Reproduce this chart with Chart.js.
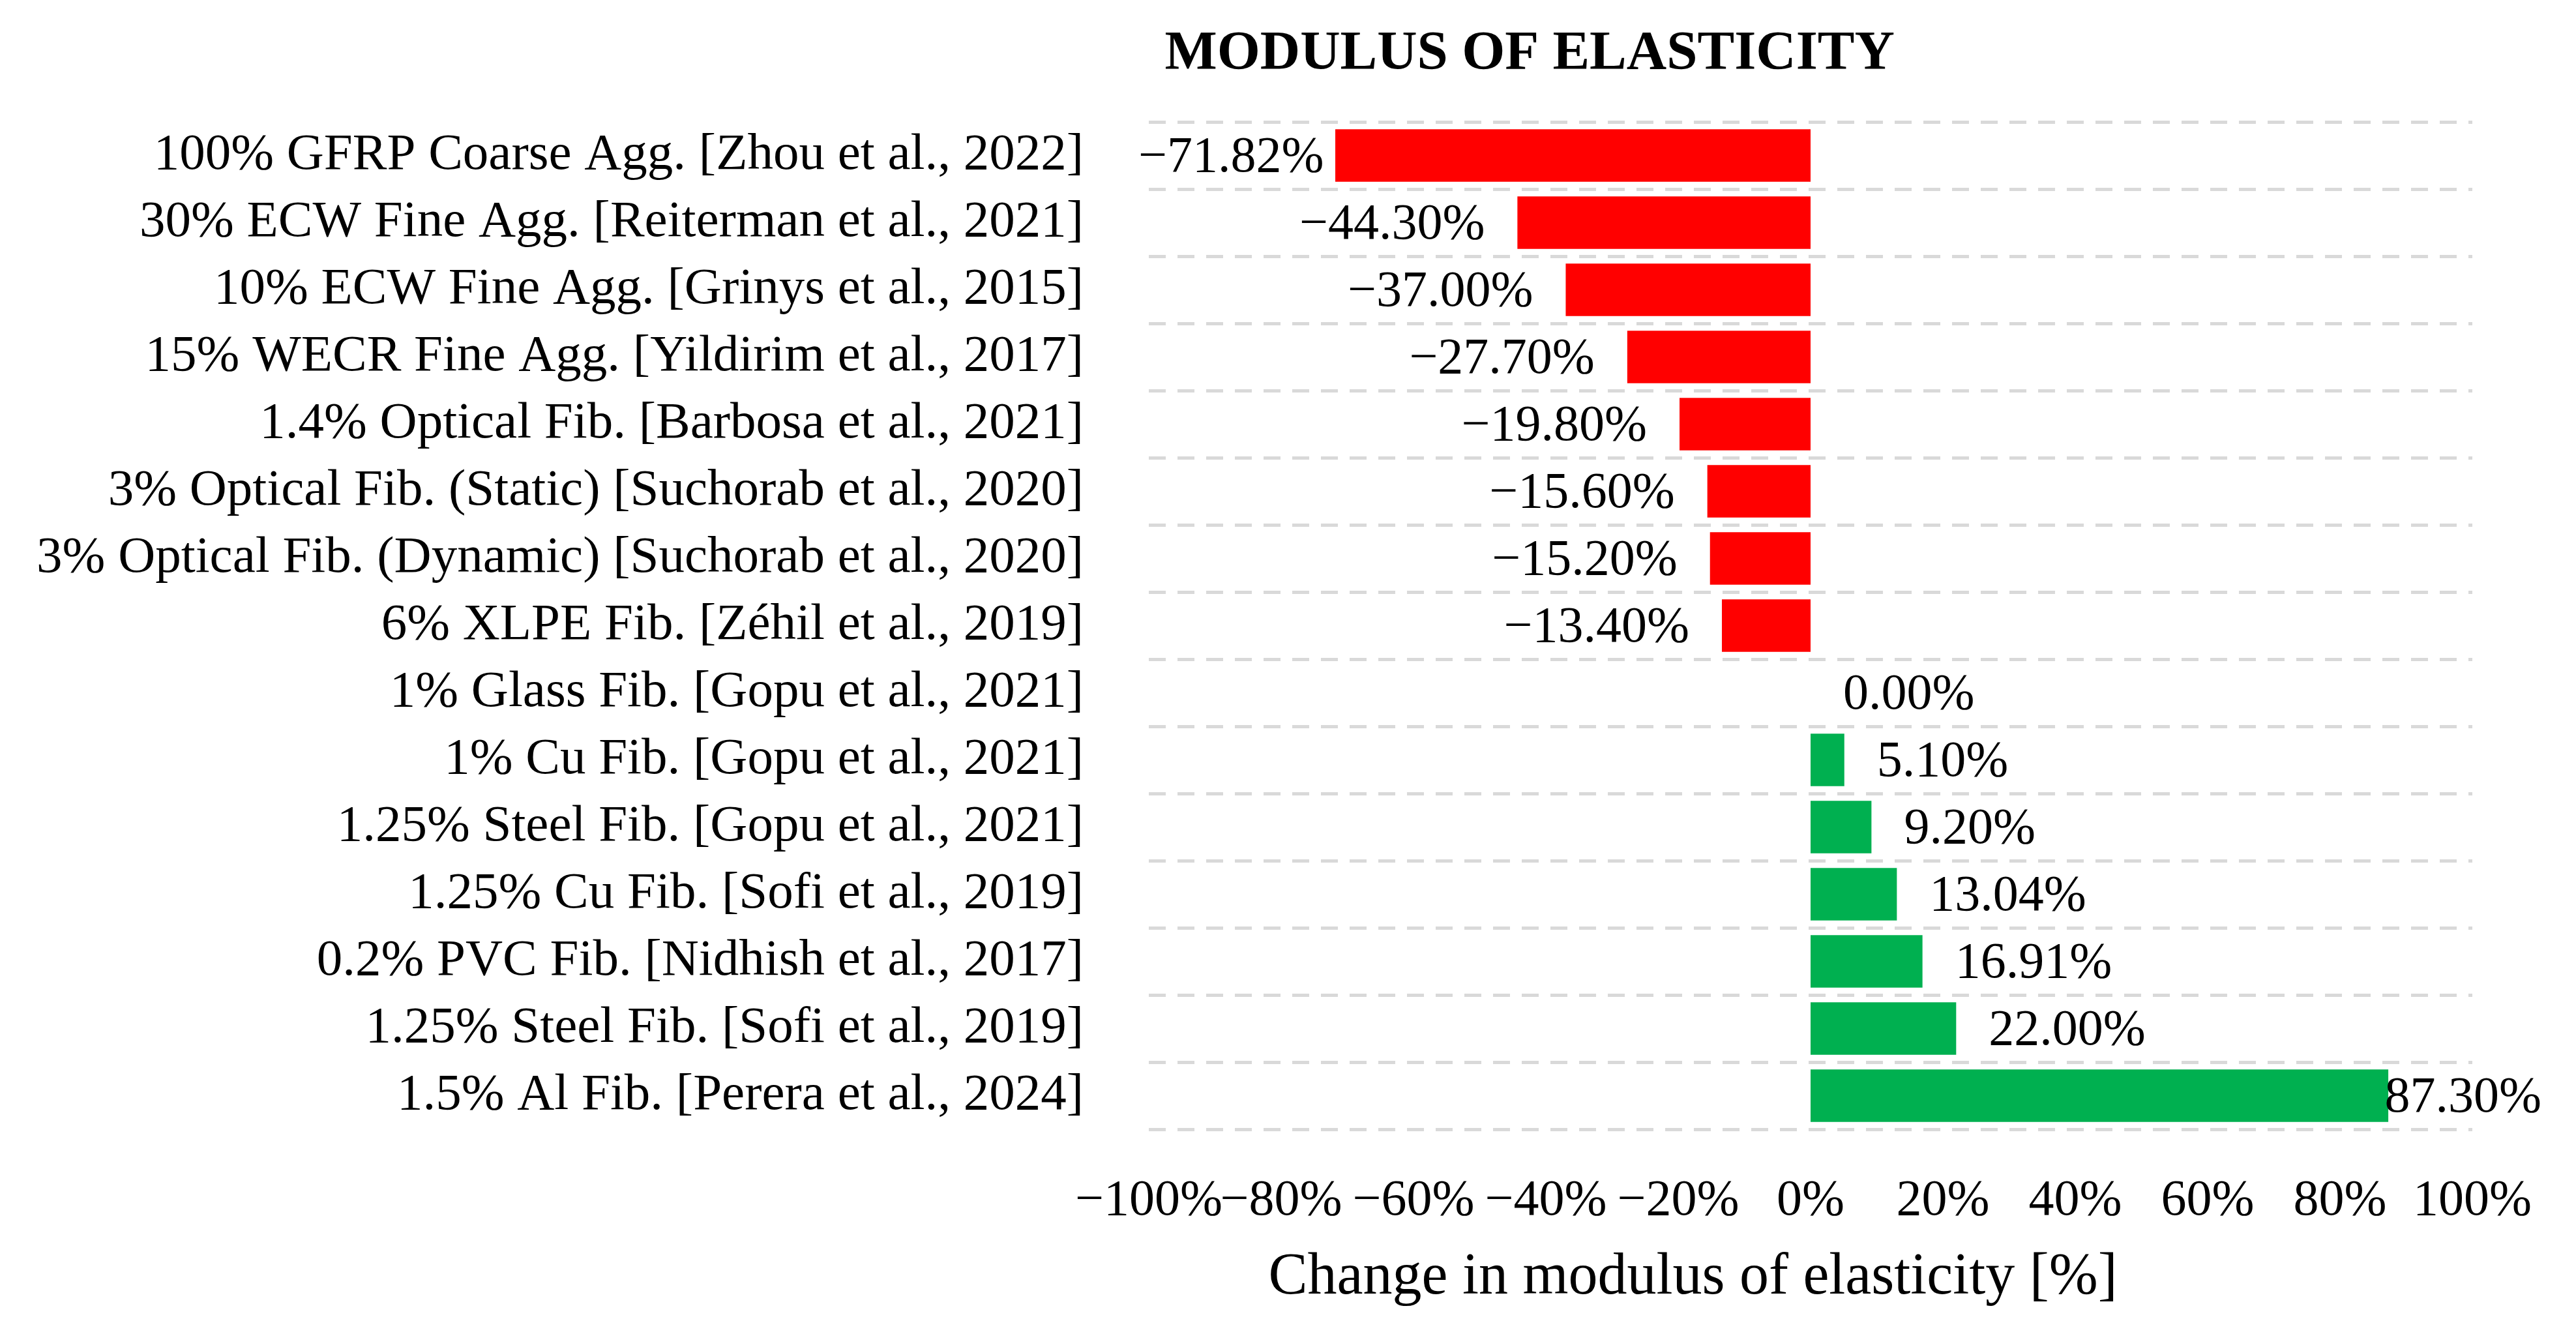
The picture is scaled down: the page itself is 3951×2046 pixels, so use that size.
<!DOCTYPE html>
<html>
<head>
<meta charset="utf-8">
<script src="https://cdn.jsdelivr.net/npm/chart.js@4.4.1/dist/chart.umd.min.js"></script>
<style>
    html, body { margin: 0; padding: 0; background: #ffffff; }
    #wrap { width: 3951px; height: 2046px; position: relative; }
</style>
</head>
<body>
<div id="wrap"><canvas id="modulusChart" width="3951" height="2046"></canvas></div>
<script>
const categories = [
    '100% GFRP Coarse Agg. [Zhou et al., 2022]',
    '30% ECW Fine Agg. [Reiterman et al., 2021]',
    '10% ECW Fine Agg. [Grinys et al., 2015]',
    '15% WECR Fine Agg. [Yildirim et al., 2017]',
    '1.4% Optical Fib. [Barbosa et al., 2021]',
    '3% Optical Fib. (Static) [Suchorab et al., 2020]',
    '3% Optical Fib. (Dynamic) [Suchorab et al., 2020]',
    '6% XLPE Fib. [Zéhil et al., 2019]',
    '1% Glass Fib. [Gopu et al., 2021]',
    '1% Cu Fib. [Gopu et al., 2021]',
    '1.25% Steel Fib. [Gopu et al., 2021]',
    '1.25% Cu Fib. [Sofi et al., 2019]',
    '0.2% PVC Fib. [Nidhish et al., 2017]',
    '1.25% Steel Fib. [Sofi et al., 2019]',
    '1.5% Al Fib. [Perera et al., 2024]'
];

const changeValues = [-71.82, -44.30, -37.00, -27.70, -19.80, -15.60, -15.20, -13.40,
    0.00, 5.10, 9.20, 13.04, 16.91, 22.00, 87.30];

const xTicks = [-100, -80, -60, -40, -20, 0, 20, 40, 60, 80, 100];

const chartTitle = 'MODULUS OF ELASTICITY';
const axisTitle = 'Change in modulus of elasticity [%]';

const FONT = '"Liberation Serif", "Times New Roman", serif';
const RED = '#ff0000';
const GREEN = '#00b050';

function pct(v, digits) {
    const s = Math.abs(v).toFixed(digits) + '%';
    return v < 0 ? '\u2212' + s : s;
}

// value labels next to bar ends, kept inside the page
const valueLabels = {
    id: 'valueLabels',
    afterDatasetsDraw(chart) {
        const ctx = chart.ctx;
        const meta = chart.getDatasetMeta(0);
        const area = chart.chartArea;
        ctx.save();
        ctx.font = '78px ' + FONT;
        ctx.fillStyle = '#000';
        ctx.textBaseline = 'middle';
        ctx.textAlign = 'left';
        meta.data.forEach((bar, i) => {
            const v = changeValues[i];
            const text = pct(v, 2);
            const w = ctx.measureText(text).width;
            let x;
            if (v < 0) {
                x = Math.max(bar.x - 50 - w, area.left - 16);
            } else {
                x = Math.min(bar.x + 50, chart.width - w - 53);
            }
            ctx.fillText(text, x, bar.y + 4);
        });
        ctx.restore();
    }
};

// chart title and axis title, placed as in the source figure
const titles = {
    id: 'titles',
    afterDraw(chart) {
        const ctx = chart.ctx;
        ctx.save();
        ctx.fillStyle = '#000';
        ctx.textAlign = 'center';
        ctx.textBaseline = 'middle';
        ctx.font = 'bold 85px ' + FONT;
        ctx.fillText(chartTitle, chart.width * 0.5938, 84);
        ctx.font = '90px ' + FONT;
        ctx.fillText(axisTitle, chart.width * 0.6572, 1960);
        ctx.restore();
    }
};

const ctx = document.getElementById('modulusChart').getContext('2d');
const modulusChart = new Chart(ctx, {
    type: 'bar',
    data: {
        labels: categories,
        datasets: [{
            data: changeValues,
            backgroundColor: changeValues.map(v => v < 0 ? RED : GREEN),
            borderWidth: 0,
            categoryPercentage: 1.0,
            barPercentage: 0.78
        }]
    },
    options: {
        indexAxis: 'y',
        responsive: false,
        animation: false,
        devicePixelRatio: 1,
        layout: { padding: { top: 187, right: 159, bottom: 0, left: 0 } },
        plugins: {
            legend: { display: false },
            title: { display: false },
            tooltip: { enabled: false }
        },
        scales: {
            x: {
                min: -100,
                max: 100,
                afterBuildTicks: scale => { scale.ticks = xTicks.map(v => ({ value: v })); },
                grid: { display: false, drawTicks: false },
                border: { display: false },
                ticks: {
                    padding: 64,
                    maxRotation: 0,
                    minRotation: 0,
                    autoSkip: false,
                    color: '#000',
                    font: { family: FONT, size: 78 },
                    callback: v => pct(v, 0)
                },
                afterFit: scale => { scale.height = 314; }
            },
            y: {
                grid: {
                    color: '#d9d9d9',
                    lineWidth: 5,
                    drawTicks: false
                },
                // in v4 border.dash sets the dash of the grid lines
                border: { display: false, dash: [26, 18] },
                ticks: {
                    padding: 100,
                    color: '#000',
                    font: { family: FONT, size: 79 }
                },
                afterFit: scale => { scale.width = 1762; }
            }
        }
    },
    plugins: [valueLabels, titles]
});
</script>
</body>
</html>
